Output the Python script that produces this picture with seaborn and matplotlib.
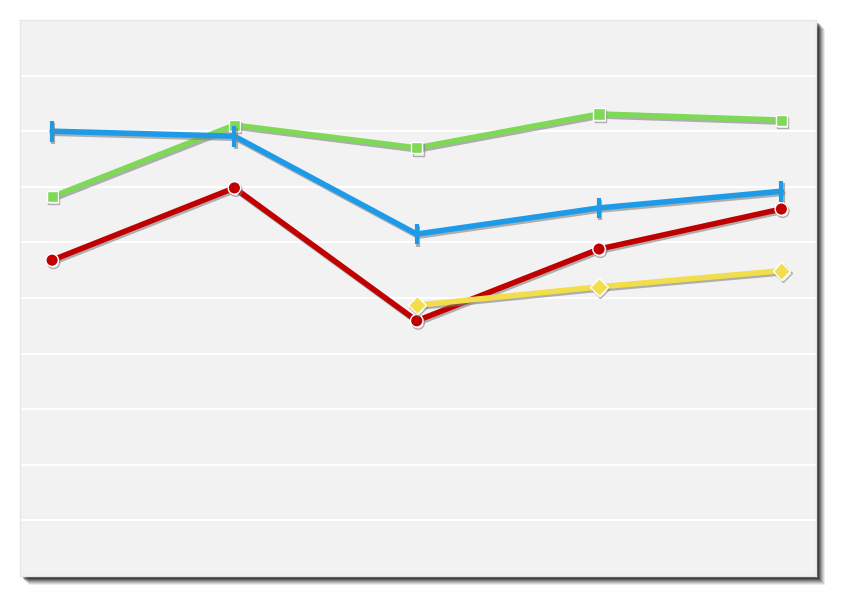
import matplotlib.pyplot as plt
import matplotlib.patheffects as pe
from matplotlib.patches import Rectangle
import numpy as np
import pandas as pd
import seaborn as sns

# Values (y axis 0..10, no labels shown)
x = [0, 1, 2, 3, 4]
green = [6.82, 8.11, 7.70, 8.31, 8.20]
blue = [8.00, 7.91, 6.15, 6.62, 6.92]
red = [5.68, 6.98, 4.59, 5.88, 6.60]
yellow = [np.nan, np.nan, 4.87, 5.20, 5.49]

series = [
    ("green", green, "#7ed957", "s", 8, "white", 1.0),
    ("blue", blue, "#1e9be8", "|", 15, "#1e9be8", 3.0),
    ("red", red, "#c00000", "o", 9, "white", 1.0),
    ("yellow", yellow, "#f2dd4b", "D", 9, "white", 1.0),
]

sns.set_style("white")
fig = plt.figure(figsize=(8.5, 5.89), dpi=100)
ax = fig.add_axes([20 / 850, 13 / 589, 796 / 850, 556 / 589])

# drop shadow of the panel
for i, a in enumerate([0.08, 0.1, 0.12, 0.15, 0.2, 0.25, 0.3]):
    off = 9 - i
    fig.patches.append(Rectangle(((20 + off) / 850, (13 - off) / 589), 796 / 850, 556 / 589,
                                 transform=fig.transFigure, facecolor="black", alpha=a,
                                 edgecolor="none", zorder=0))
ax.set_zorder(1)

ax.set_facecolor("#f2f2f2")
for s in ax.spines.values():
    s.set_color("#e6e6e6")
    s.set_linewidth(1)

for name, vals, col, mk, ms, mec, mew in series:
    df = pd.DataFrame({"x": x, "y": vals}).dropna()
    sns.lineplot(data=df, x="x", y="y", ax=ax, color=col, linewidth=4.0,
                 marker=mk, markersize=ms, markeredgecolor=mec, markeredgewidth=mew,
                 path_effects=[pe.SimpleLineShadow(offset=(1, -1.5), shadow_color="gray", alpha=0.6),
                               pe.Normal()])

ax.set_xlim(-0.176, 4.19)
ax.set_ylim(0, 10)
ax.set_yticks(np.arange(1, 10))
ax.grid(axis="y", color="white", linewidth=1.5)
ax.set_axisbelow(True)
ax.tick_params(left=False, bottom=False, labelleft=False, labelbottom=False)
ax.set_xlabel("")
ax.set_ylabel("")

fig.savefig("out.png", dpi=100)
